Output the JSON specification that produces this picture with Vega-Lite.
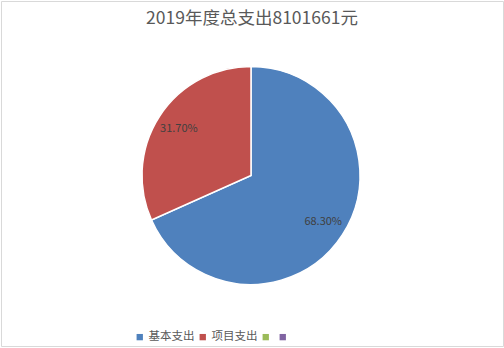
{
  "$schema": "https://vega.github.io/schema/vega-lite/v6.json",
  "width": 502,
  "height": 345,
  "autosize": {"type": "none"},
  "padding": {"left": 1, "top": 1, "right": 1, "bottom": 1},
  "background": "white",
  "view": {"stroke": "#d9d9d9", "strokeWidth": 1, "fill": "white"},
  "config": {
    "font": "Noto Sans CJK SC"
  },
  "title": {
    "text": "2019年度总支出8101661元",
    "font": "Noto Sans CJK SC",
    "fontSize": 17.5,
    "fontWeight": "normal",
    "color": "#595959",
    "anchor": "middle",
    "frame": "group",
    "baseline": "alphabetic",
    "offset": 0,
    "dy": 40
  },
  "data": {
    "values": [
      {"category": "基本支出", "value": 68.3, "label": "68.30%", "ord": 1},
      {"category": "项目支出", "value": 31.7, "label": "31.70%", "ord": 2}
    ]
  },
  "encoding": {
    "theta": {"field": "value", "type": "quantitative", "stack": true},
    "order": {"field": "ord", "type": "quantitative"}
  },
  "layer": [
    {
      "mark": {"type": "arc", "outerRadius": 109, "stroke": "white", "strokeWidth": 1.5, "x": {"expr": "width/2 - 1"}, "y": {"expr": "height/2 + 2"}},
      "encoding": {
        "color": {
          "field": "category",
          "type": "nominal",
          "scale": {"domain": ["基本支出", "项目支出", "c3", "c4"], "range": ["#4F81BD", "#C0504D", "#9BBB59", "#8064A2"]},
          "legend": {
            "title": null,
            "orient": "none",
            "direction": "horizontal",
            "legendX": 133,
            "legendY": 330,
            "symbolType": "square",
            "symbolSize": 40,
            "symbolStrokeWidth": 0,
            "labelFont": "Noto Sans CJK SC",
            "labelFontSize": 11.5,
            "labelColor": "#595959",
            "labelOffset": 3,
            "columnPadding": 2,
            "labelExpr": "(datum.label == 'c3' || datum.label == 'c4') ? '' : datum.label"
          }
        }
      }
    },
    {
      "mark": {"type": "text", "radius": 86, "fontSize": 11, "font": "Noto Sans CJK SC", "color": "#404040", "x": {"expr": "width/2 - 1"}, "y": {"expr": "height/2 + 2"}},
      "encoding": {
        "text": {"field": "label", "type": "nominal"}
      }
    }
  ]
}
